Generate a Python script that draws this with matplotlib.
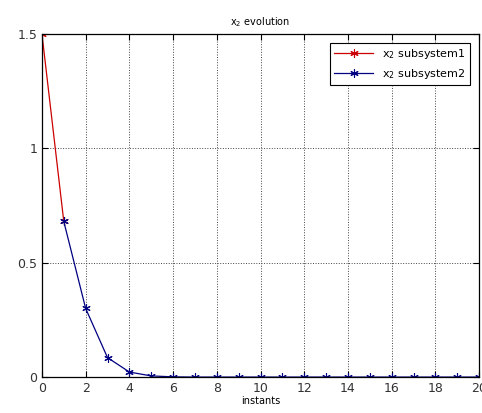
import numpy as np
import matplotlib
matplotlib.use('Agg')
import matplotlib.pyplot as plt

t1 = [0, 1]
x2_sub1 = [1.5, 0.68]
t2 = list(range(1, 21))
x2_sub2 = [0.68, 0.30, 0.085, 0.022, 0.005, 0.001, 0.0, 0.0, 0.0, 0.0,
           0.0, 0.0, 0.0, 0.0, 0.0, 0.0, 0.0, 0.0, 0.0, 0.0]

plt.rcParams['font.family'] = 'DejaVu Sans'
fig = plt.figure(figsize=(4.82, 4.13), dpi=100)
ax = fig.add_axes([0.087, 0.087, 0.907, 0.831])

star = (6, 2, 0)
ax.plot(t1, x2_sub1, color='#cc0000', marker=star, markersize=6, markeredgewidth=0.8,
        linewidth=0.9, label='x$_2$ subsystem1')
ax.plot(t2, x2_sub2, color='#000080', marker=star, markersize=6, markeredgewidth=0.8,
        linewidth=0.9, label='x$_2$ subsystem2')

ax.set_xlim(0, 20)
ax.set_ylim(0, 1.5)
ax.set_xticks(np.arange(0, 21, 2))
ax.set_yticks([0, 0.5, 1, 1.5])
ax.set_yticklabels(['0', '0.5', '1', '1.5'])
ax.tick_params(labelsize=9, direction='in', length=4, top=True, right=True,
               labelcolor='#333333')
ax.grid(True, linestyle=':', color='#444444', linewidth=0.7)
for s in ax.spines.values():
    s.set_linewidth(0.9)

ax.set_title('x$_2$ evolution', fontsize=7)
ax.set_xlabel('instants', fontsize=7, labelpad=1)
leg = ax.legend(loc='upper right', fontsize=8, fancybox=False, framealpha=1,
                edgecolor='black', handlelength=3.5, borderaxespad=0.8)
leg.get_frame().set_linewidth(0.8)

fig.savefig('out.png', dpi=100)
